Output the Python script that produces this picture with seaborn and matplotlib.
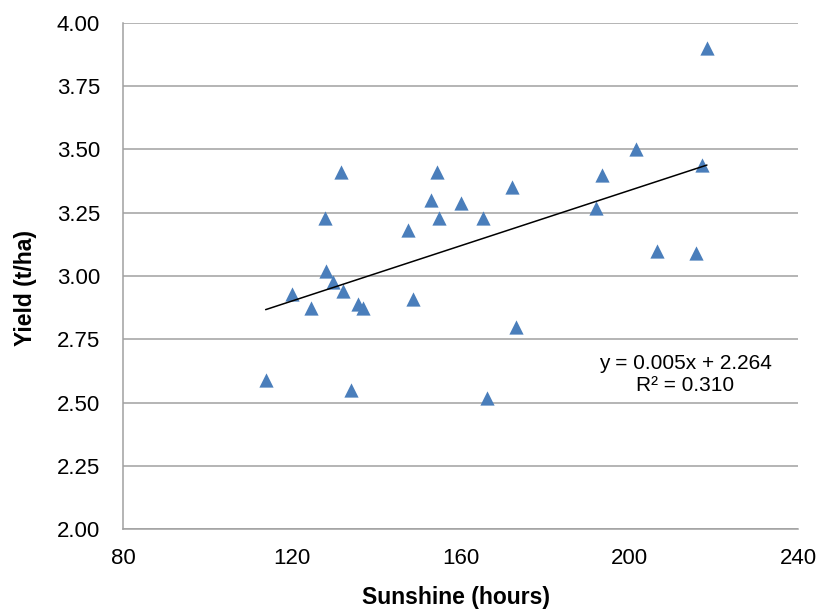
import numpy as np
import pandas as pd
import seaborn as sns
import matplotlib.pyplot as plt

# values
sunshine = [218.4, 217.2, 201.5, 193.6, 192.1, 206.6, 215.7,
            131.7, 154.4, 172.1, 153.0, 160.0, 127.9, 155.0,
            165.4, 147.5, 128.1, 129.7, 120.0, 132.2, 135.8,
            136.8, 124.5, 148.8, 173.2, 113.8, 134.1, 166.2]
yields = [3.90, 3.44, 3.50, 3.40, 3.27, 3.10, 3.09,
          3.41, 3.41, 3.35, 3.30, 3.29, 3.23, 3.23,
          3.23, 3.18, 3.02, 2.975, 2.93, 2.94, 2.89,
          2.875, 2.875, 2.91, 2.80, 2.59, 2.55, 2.52]
x_ticks = [80, 120, 160, 200, 240]
y_ticks = [2.00, 2.25, 2.50, 2.75, 3.00, 3.25, 3.50, 3.75, 4.00]
fit_text = "y = 0.005x + 2.264\nR² = 0.310"

df = pd.DataFrame({'Sunshine': sunshine, 'Yield': yields})

sns.set_style('white')
plt.rcParams['font.family'] = ['Liberation Sans', 'DejaVu Sans']
plt.rcParams['text.color'] = 'black'

fig = plt.figure(figsize=(8.18, 6.10), dpi=100)
ax = fig.add_axes([0.1504, 0.1323, 0.8252, 0.8305])

grid_col = '#a0a0a0'
ax.set_axisbelow(True)
ax.yaxis.grid(True, color=grid_col, lw=1.1)
ax.xaxis.grid(False)

# scatter + least squares trend line over the data range
sns.regplot(data=df, x='Sunshine', y='Yield', ci=None, marker='^', ax=ax,
            scatter_kws=dict(s=105, color='#4a7ebb', linewidths=0, alpha=1),
            line_kws=dict(color='black', lw=1.1))

ax.set_xlim(80, 240)
ax.set_ylim(2.0, 4.0)
ax.set_xticks(x_ticks)
ax.set_yticks(y_ticks)
ax.set_yticklabels([f'{v:.2f}' for v in y_ticks])

for s in ['top', 'right']:
    ax.spines[s].set_visible(False)
for s in ['left', 'bottom']:
    ax.spines[s].set_color(grid_col)
    ax.spines[s].set_linewidth(1.1)

ax.tick_params(axis='both', which='major', direction='out', length=5.5, width=1.1,
               color=grid_col, labelsize=16, labelcolor='black')
ax.tick_params(axis='y', pad=11)
ax.tick_params(axis='x', pad=8)

ax.set_xlabel('Sunshine (hours)', fontsize=16.5, fontweight='bold', color='black')
ax.set_ylabel('Yield (t/ha)', fontsize=16.5, fontweight='bold', color='black')
ax.xaxis.set_label_coords(0.493, -0.112)
ax.yaxis.set_label_coords(-0.128, 0.477)

ax.text(213.2, 2.612, fit_text, fontsize=15, color='black',
        ha='center', va='center', linespacing=1.2)

fig.savefig('out.png', dpi=100)
